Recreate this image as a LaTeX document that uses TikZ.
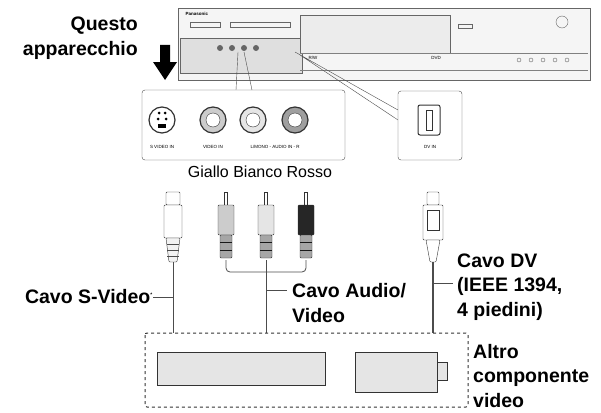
\documentclass[tikz,border=0pt]{standalone}
\usepackage{fontspec}
\setmainfont{Liberation Sans}
\begin{document}
\begin{tikzpicture}
  [x=1pt,y=-1pt
  % stili delle parti
  ,lbl/.style={font=\bfseries\fontsize{19.5}{24.5}\selectfont,align=left,inner sep=1pt}
  ,tiny/.style={font=\fontsize{4.5}{5}\selectfont}
  ,body/.style={draw=black!60,fill=gray!8,thin}
  ,jack/.style={draw=black!80,line width=1.2pt,fill=white}
  ,plug/.style={draw=black!80,fill=white,thin,rounded corners=1pt}
  ,cable/.style={draw=black!70,line width=.8pt}
  ,lead/.style={draw=black!70,thin}
  ]
  \useasboundingbox (0,0) rectangle (601,412);
  % apparecchio
  \filldraw[body] (178,8) rectangle (590,80);
  \filldraw[body,fill=gray!25] (180,38) rectangle (302,73);
  \filldraw[body,fill=gray!15] (300,15) rectangle (450,53);
  \draw[black!50] (300,53) -- (588,53) (300,70) -- (588,70);
  \node[tiny,anchor=west,font=\bfseries\fontsize{4.5}{5}\selectfont] (brand) at (182,14) {Panasonic};
  \draw[black!60] (190,22) rectangle (220,27) (230,22) rectangle (290,27);
  \draw[black!60] (562,22) circle (6);
  \draw[black!60] (458,24) rectangle (472,28);
  \foreach \x in {220,232,244,256} \fill[black!60] (\x,48) circle (3);
  \node[tiny] (rw) at (313,58) {R/W};
  \node[tiny] (dv) at (436,58) {DVD};
  \foreach \x in {519,531,543,555,567} \draw[black!60] (\x,60) circle (2);
  % freccia
  \fill[black] (160,45) -- (170,45) -- (170,62) -- (177,62) -- (165,80) -- (153,62) -- (160,62) -- cycle;
  \node[lbl,anchor=east,align=right] (questo) at (139,38) {Questo\\apparecchio};
  % ingrandimenti
  \draw[black!70] (238,52) -- (236,90) (244,52) -- (252,90);
  \draw[black!70] (295,52) -- (398,110) (300,55) -- (398,120);
  \draw[black!70,rounded corners=3pt,fill=white] (142,90) rectangle (345,160);
  \node[jack,circle,minimum size=26pt] (svideo) at (162,120) {};
  \fill[black] (159,113) circle (1.5) (165,113) circle (1.5) (158,119) circle (1.5) (166,119) circle (1.5);
  \fill[black] (158,124) rectangle (166,128);
  \foreach \n/\x/\f in {video/213/gray!40,left/253/gray!20,right/295/gray!75}
    {\node[jack,circle,minimum size=26pt,fill=\f] (\n) at (\x,120) {};
     \draw[black!80,fill=white] (\x,120) circle (7);}
  \node[tiny] (sv) at (162,147) {S VIDEO IN};
  \node[tiny] (vi) at (213,147) {VIDEO IN};
  \node[tiny] (au) at (275,147) {L/MONO - AUDIO IN - R};
  \draw[black!70,rounded corners=3pt,fill=white] (398,91) rectangle (462,160);
  \draw[black!80,line width=1pt,rounded corners=2pt] (418,105) rectangle (440,135);
  \draw[black!80] (426,110) rectangle (432,130);
  \node[tiny] (dvin) at (430,147) {DV IN};
  \node[font=\fontsize{16}{18}\selectfont] (colori) at (260,172) {Giallo Bianco Rosso};
  % spine
  \filldraw[plug] (166,192) rectangle (180,205);
  \filldraw[plug] (164,205) rectangle (182,238);
  \filldraw[plug,fill=gray!10] (166,238) -- (180,238) -- (177,262) -- (169,262) -- cycle;
  \foreach \y in {244,250,256} \draw[black!70] (167,\y) -- (179,\y);
  \foreach \n/\x/\f in {giallo/226/gray!40,bianco/266/gray!20,rosso/306/black!85}
    {\draw[black!80] (\x-1.5,192) rectangle (\x+1.5,205);
     \filldraw[plug,fill=\f] (\x-8,205) rectangle (\x+8,235);
     \filldraw[plug,fill=gray!70] (\x-6,235) rectangle (\x+6,258);
     \draw[black!90,line width=1pt] (\x-6,242) -- (\x+6,242) (\x-6,250) -- (\x+6,250);
     \coordinate (\n) at (\x,260);}
  \filldraw[plug] (427,192) rectangle (439,205);
  \filldraw[plug] (423,205) rectangle (443,240);
  \draw[black!80] (427,210) rectangle (439,230);
  \filldraw[plug] (426,240) -- (440,240) -- (436,262) -- (430,262) -- cycle;
  % cavi
  \draw[cable] (173,262) -- (173,333);
  \draw[cable,rounded corners=4pt] (giallo) -- (226,272) -- (306,272) -- (rosso);
  \draw[cable] (bianco) -- (266,333);
  \draw[cable,line width=1.4pt] (433,262) -- (433,333);
  \draw[lead] (153,297) -- (173,297) (266,290) -- (287,290) (433,283) -- (453,283);
  \node[lbl,anchor=east] (cavos) at (154,297) {Cavo S-Video\textsuperscript{\tiny*}};
  \node[lbl,anchor=west] (cavoav) at (291,303) {Cavo Audio/\\Video};
  \node[lbl,anchor=west] (cavodv) at (456,287) {Cavo DV\\(IEEE 1394,\\4 piedini)};
  % altro componente
  \draw[black!80,dashed,line width=1pt,rounded corners=2pt] (145,333) rectangle (468,407);
  \filldraw[draw=black!80,fill=gray!20] (157,352) rectangle (325,385);
  \filldraw[draw=black!80,fill=gray!20] (355,352) rectangle (437,392);
  \filldraw[draw=black!80,fill=gray!20] (437,362) rectangle (447,380);
  \node[lbl,anchor=west] (altro) at (472,376) {Altro\\componente\\video};
\end{tikzpicture}
\end{document}
